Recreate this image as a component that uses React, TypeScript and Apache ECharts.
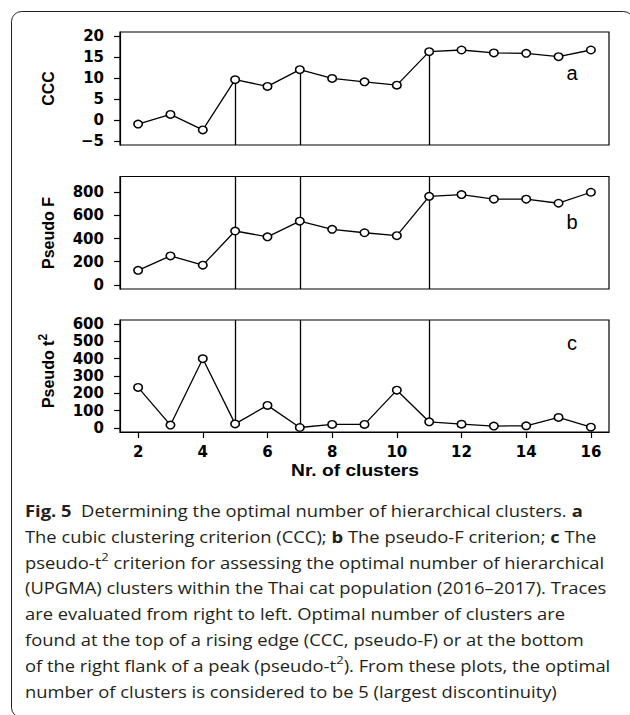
import React, { useEffect, useRef } from "react";
import * as echarts from "echarts";

const clusters = [2, 3, 4, 5, 6, 7, 8, 9, 10, 11, 12, 13, 14, 15, 16];
const ccc = [-1.0, 1.3, -2.4, 9.6, 8.0, 12.0, 9.9, 9.1, 8.3, 16.3, 16.7, 16.0, 15.9, 15.1, 16.7];
const pseudoF = [125, 250, 170, 465, 415, 550, 480, 450, 425, 765, 780, 740, 740, 705, 800];
const pseudoT2 = [234, 16, 400, 23, 130, 2, 20, 20, 218, 35, 21, 10, 12, 60, 4];
const markedClusters = [5, 7, 11];

const xTicks = [2, 4, 6, 8, 10, 12, 14, 16];
const cccTicks = [-5, 0, 5, 10, 15, 20];
const fTicks = [0, 200, 400, 600, 800];
const t2Ticks = [0, 100, 200, 300, 400, 500, 600];

const panelLetters = ["a", "b", "c"];
const yTitles = ["CCC", "Pseudo F", "Pseudo t{sup|2}"];
const xTitle = "Nr. of clusters";

const captionLines = [
  "{b|Fig. 5}  Determining the optimal number of hierarchical clusters. {b|a}",
  "The cubic clustering criterion (CCC); {b|b} The pseudo-F criterion; {b|c} The",
  "pseudo-t{sup|2} criterion for assessing the optimal number of hierarchical",
  "(UPGMA) clusters within the Thai cat population (2016–2017). Traces",
  "are evaluated from right to left. Optimal number of clusters are",
  "found at the top of a rising edge (CCC, pseudo-F) or at the bottom",
  "of the right flank of a peak (pseudo-t{sup|2}). From these plots, the optimal",
  "number of clusters is considered to be 5 (largest discontinuity)",
];

const X_MIN = 1.44;
const X_MAX = 16.56;

// R-style 4% padded ranges
const ranges = [
  { min: -6, max: 21 },
  { min: -36, max: 936 },
  { min: -24, max: 624 },
];

const grids = [
  { left: 120, width: 489, top: 32, height: 113 },
  { left: 120, width: 489, top: 176.5, height: 112.5 },
  { left: 120, width: 489, top: 320, height: 112 },
];

const TITLE_FONT = "Liberation Sans";
const TICK_FONT = "DejaVu Sans";
const CAP_FONT = "Open Sans";
const CAP_STRETCH = 1.185;

function fmt(v: number) {
  return v < 0 ? "\u2212" + Math.abs(v) : String(v);
}

export default function App() {
  const ref = useRef<HTMLDivElement>(null);

  useEffect(() => {
    if (!ref.current) return;
    const chart = echarts.init(ref.current, undefined, { renderer: "svg" });
    const seriesValues = [ccc, pseudoF, pseudoT2];
    const yTickSets = [cccTicks, fTicks, t2Ticks];

    const xAxes = grids.map((_, i) => ({
      type: "value",
      gridIndex: i,
      min: X_MIN,
      max: X_MAX,
      splitLine: { show: false },
      axisLine: { show: i === 2, onZero: false, lineStyle: { color: "#000", width: 1.2 } },
      axisTick: {
        show: i === 2,
        length: 6,
        customValues: xTicks,
        lineStyle: { color: "#000", width: 1.2 },
      },
      axisLabel: {
        show: i === 2,
        customValues: xTicks,
        margin: 12,
        fontFamily: TICK_FONT,
        fontWeight: "bold",
        fontSize: 15,
        color: "#000",
      },
    }));

    const yAxes = grids.map((_, i) => ({
      type: "value",
      gridIndex: i,
      min: ranges[i].min,
      max: ranges[i].max,
      splitLine: { show: false },
      axisLine: { show: true, onZero: false, lineStyle: { color: "#000", width: 1.2 } },
      axisTick: {
        show: true,
        length: 6,
        customValues: yTickSets[i],
        lineStyle: { color: "#000", width: 1.2 },
      },
      axisLabel: {
        show: true,
        customValues: yTickSets[i],
        margin: 16,
        formatter: (v: number) => fmt(v),
        fontFamily: TICK_FONT,
        fontWeight: "bold",
        fontSize: 15,
        color: "#000",
      },
    }));

    const series = seriesValues.map((vals, i) => {
      const valAt = (k: number) => vals[clusters.indexOf(k)];
      const lines = markedClusters.map((k) => {
        if (i === 0) return [{ coord: [k, valAt(k)] }, { coord: [k, ranges[0].min] }];
        if (i === 1) return [{ coord: [k, ranges[1].min] }, { coord: [k, ranges[1].max] }];
        return [{ coord: [k, valAt(k)] }, { coord: [k, ranges[2].max] }];
      });
      return {
        type: "line",
        xAxisIndex: i,
        yAxisIndex: i,
        data: clusters.map((c, j) => [c, vals[j]]),
        symbol: "circle",
        symbolSize: [8.5, 7.5],
        showAllSymbol: true,
        itemStyle: { color: "#fff", borderColor: "#000", borderWidth: 1.5 },
        lineStyle: { color: "#000", width: 1.3 },
        z: 3,
        markLine: {
          silent: true,
          symbol: ["none", "none"],
          label: { show: false },
          lineStyle: { color: "#000", width: 1.3, type: "solid" },
          data: lines,
          z: 2,
        },
      };
    });

    const letterY = [73, 222, 343];
    const titleCY = [88.5, 233, 371];
    const graphic: any[] = [
      {
        type: "rect",
        shape: { x: 11.5, y: 11.5, width: 622, height: 706, r: 10 },
        style: { fill: "none", stroke: "#231f20", lineWidth: 1 },
        silent: true,
      },
    ];
    panelLetters.forEach((l, i) => {
      graphic.push({
        type: "text",
        x: 572,
        y: letterY[i],
        style: {
          text: l,
          fontFamily: TITLE_FONT,
          fontSize: 20,
          fill: "#000",
          align: "center",
          verticalAlign: "middle",
        },
      });
    });
    yTitles.forEach((t, i) => {
      graphic.push({
        type: "text",
        x: 48,
        y: titleCY[i],
        rotation: Math.PI / 2,
        style: {
          text: t,
          fontFamily: TITLE_FONT,
          fontWeight: "bold",
          fontSize: 16,
          lineHeight: 22,
          fill: "#000",
          align: "center",
          verticalAlign: "middle",
          rich: {
            sup: {
              fontFamily: TITLE_FONT,
              fontWeight: "bold",
              fontSize: 12,
              lineHeight: 12,
              verticalAlign: "top",
              fill: "#000",
            },
          },
        },
      });
    });
    graphic.push({
      type: "text",
      x: 355,
      y: 471,
      scaleX: 1.2,
      style: {
        text: xTitle,
        fontFamily: TITLE_FONT,
        fontWeight: "bold",
        fontSize: 16,
        fill: "#000",
        align: "center",
        verticalAlign: "middle",
      },
    });
    captionLines.forEach((line, i) => {
      graphic.push({
        type: "text",
        x: 25,
        y: 511 + i * 25.8,
        scaleX: CAP_STRETCH,
        style: {
          text: line,
          fontFamily: CAP_FONT,
          fontSize: 15.5,
          lineHeight: 22,
          fill: "#231f20",
          align: "left",
          verticalAlign: "middle",
          rich: {
            b: {
              fontFamily: CAP_FONT,
              fontSize: 15.5,
              fontWeight: "bold",
              lineHeight: 22,
              fill: "#231f20",
            },
            sup: {
              fontFamily: CAP_FONT,
              fontSize: 11,
              lineHeight: 12,
              verticalAlign: "top",
              fill: "#231f20",
            },
          },
        },
      });
    });

    chart.setOption({
      animation: false,
      backgroundColor: "#fff",
      grid: grids.map((g) => ({
        ...g,
        show: true,
        borderColor: "#000",
        borderWidth: 1.2,
        backgroundColor: "transparent",
        containLabel: false,
      })),
      xAxis: xAxes,
      yAxis: yAxes,
      series,
      graphic,
    });
    return () => chart.dispose();
  }, []);

  return (
    <div
      ref={ref}
      style={{ position: "fixed", left: 0, top: 0, width: 630, height: 715, background: "#fff" }}
    />
  );
}
